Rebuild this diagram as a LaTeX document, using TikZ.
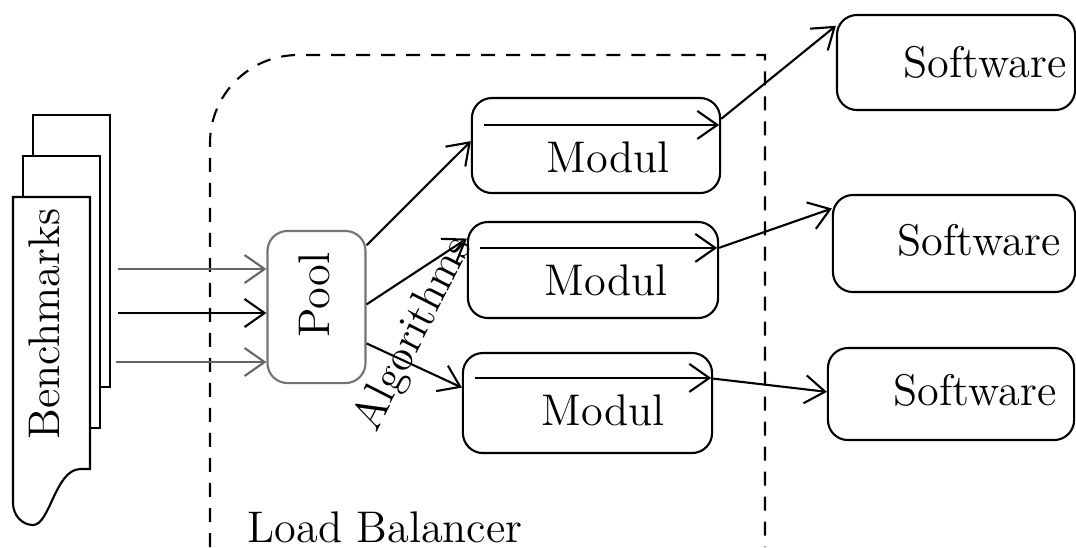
\documentclass[tikz,border=0pt]{standalone}
\usepackage{fontspec}
\usetikzlibrary{arrows.meta,calc}
\begin{document}
\begin{tikzpicture}[x=0.01cm,y=-0.01cm,
  line width=0.6pt,
  every node/.style={font=\fontsize{12.6}{15}\selectfont},
  arr/.style={-{Straight Barb[length=2mm,width=2.8mm]}},
  rbox/.style={draw, rounded corners=0.2cm, inner sep=0pt},
  page/.style={draw, fill=white, inner sep=0pt, minimum width=0.77cm, minimum height=2.72cm},
  lbl/.style={inner sep=0pt},
  lb/.style={dash pattern=on 0.14cm off 0.11cm}
]
\useasboundingbox (0,0) rectangle (1076,547);

% dashed load balancer region
\draw[lb] (210,547) [rounded corners=0.88cm] -- (210,55) [sharp corners] -- (765,55) -- (765,547);
\node[lbl] (lbt) at (385,527) {Load Balancer};

% benchmarks pages
\node[page] (bm3) at (71.5,251) {};
\node[page] (bm2) at (61.5,292) {};
\draw[fill=white] (13,197) -- (90,197) -- (90,469) -- (80,469)
  .. controls (55,470) and (50,525) .. (33,525)
  .. controls (22,525) and (13,515) .. (13,503) -- cycle;
\node[lbl, rotate=90] (bmtxt) at (44,324) {Benchmarks};

% pool
\node[rbox, draw=black!55, minimum width=0.98cm, minimum height=1.52cm] (pool) at (316.5,307) {};
\node[lbl, rotate=90] (pooltxt) at (314,295) {Pool};

\coordinate (s1) at (118,269);
\coordinate (s2) at (118,313);
\coordinate (s3) at (116,362);
\draw[arr, draw=black!60] (s1) -- (s1 -| pool.west);
\draw[arr] (s2) -- (s2 -| pool.west);
\draw[arr, draw=black!60] (s3) -- (s3 -| pool.west);

% modules
\node[rbox, minimum width=2.48cm, minimum height=0.95cm] (mod1) at (596,145.5) {};
\node[rbox, minimum width=2.50cm, minimum height=0.96cm] (mod2) at (593,270) {};
\node[rbox, minimum width=2.49cm, minimum height=1.00cm] (mod3) at (587.5,403) {};
\node[lbl] (m1t) at (608,157) {Modul};
\node[lbl] (m2t) at (606,280) {Modul};
\node[lbl] (m3t) at (603,410) {Modul};
\draw[arr] ($(mod1.north west)+(13,28)$) -- ($(mod1.north east)+(-2,28)$);
\draw[arr] ($(mod2.north west)+(13,27)$) -- ($(mod2.north east)+(-2,27)$);
\draw[arr] ($(mod3.north west)+(13,26)$) -- ($(mod3.north east)+(-2,26)$);

% software
\node[rbox, minimum width=2.38cm, minimum height=0.95cm] (sw1) at (956,62.5) {};
\node[rbox, minimum width=2.42cm, minimum height=0.97cm] (sw2) at (954,243.5) {};
\node[rbox, minimum width=2.46cm, minimum height=0.92cm] (sw3) at (951,394) {};
\node[lbl] (s1t) at (985,62) {Software};
\node[lbl] (s2t) at (979,240) {Software};
\node[lbl] (s3t) at (975,390) {Software};

% connectors
\draw[arr] (pool.51) -- (mod1.178);
\draw[arr] (pool.3) -- (mod2.166);
\draw[arr] (pool.-36) -- (mod3.173);
\draw[arr] (mod1.12) -- (sw1.163);
\draw[arr] (mod2.10) -- (sw2.164);
\draw[arr] (mod3.11) -- (sw3.179);

\node[lbl, rotate=63] (alg) at (414,334) {Algorithms};
\end{tikzpicture}
\end{document}
